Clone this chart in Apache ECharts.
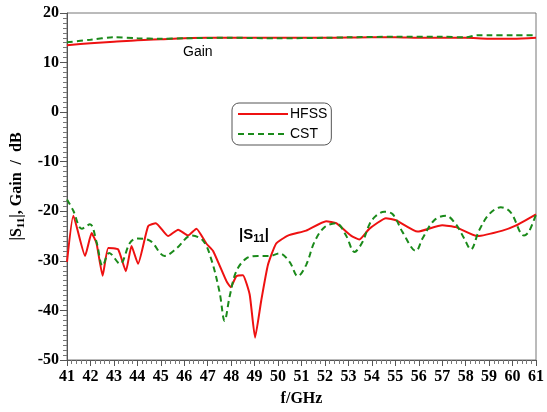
<!DOCTYPE html>
<html>
<head>
<meta charset="utf-8">
<script src="https://cdn.jsdelivr.net/npm/echarts@6/dist/echarts.min.js"></script>
<style>
  html, body { margin: 0; padding: 0; background: #fff; }
  #chart { width: 547px; height: 412px; }
</style>
</head>
<body>
<div id="chart"></div>
<script>
// frecuencias y valores
var gainHfssF = [41, 42, 43, 44, 45, 46, 47, 48, 50, 52, 54, 55, 56, 57, 58, 59, 60, 61];
var gainHfss = [13.5, 13.9, 14.2, 14.5, 14.7, 14.9, 15, 15, 15, 15, 15.1, 15.1, 15, 15, 15, 14.8, 14.8, 15];
var gainCstF = [41, 42, 43, 44, 45, 46, 48, 50, 52, 53, 55, 57, 58, 58.5, 59, 60, 61];
var gainCst = [14.1, 14.6, 15.1, 14.9, 14.8, 14.9, 15, 14.9, 15, 15.1, 15.2, 15.2, 15.1, 15.5, 15.5, 15.5, 15.5];

var s11HfssF = [41, 41.27, 41.77, 42.05, 42.26, 42.52, 42.76, 43.18, 43.51, 43.75, 44.03, 44.46, 44.79,
  45.31, 45.74, 46.16, 46.52, 46.94, 47.23, 47.8, 47.98, 48.22, 48.5, 48.79, 49.02, 49.28, 49.57, 49.92,
  50.42, 51.2, 52.05, 52.48, 53.11, 53.47, 53.9, 54.6, 55.03, 55.95, 57.0, 57.58, 58.5, 59.57, 60.13, 61];
var s11Hfss = [-30.2, -20.9, -29, -24.4, -26.5, -33, -27.4, -27.7, -32.1, -27, -30.6, -23, -22.4,
  -25, -23.7, -24.9, -23.5, -26.5, -28, -34.1, -35.3, -33.1, -32.9, -36.8, -45.5, -38.1, -30.8, -26.5,
  -24.9, -23.9, -22, -22.4, -24.9, -25.7, -23.5, -21.4, -21.8, -24.1, -22.8, -23.2, -25, -23.9, -22.9, -20.6];

var s11CstF = [41, 41.27, 41.63, 41.98, 42.26, 42.52, 42.8, 43.26, 43.68, 43.97, 44.53, 45.17, 45.67,
  46.3, 46.8, 47.16, 47.51, 47.72, 47.94, 48.22, 48.65, 49.14, 49.64, 50.06, 50.49, 50.84, 51.2, 51.55,
  51.98, 52.48, 52.9, 53.26, 53.6, 53.9, 54.18, 54.53, 54.89, 55.31, 55.88, 56.16, 56.66, 57.16, 57.58,
  57.94, 58.22, 58.57, 59.0, 59.5, 59.92, 60.49, 60.7, 61];
var s11Cst = [-17.6, -19.9, -23.5, -22.6, -26.2, -31, -28.4, -30.6, -26.4, -25.5, -25.9, -29, -27.5,
  -24.9, -25.9, -29.8, -36.4, -42.1, -37.1, -32.1, -29.5, -29, -29, -28.5, -30.2, -33.1, -30.8, -26.2,
  -23.2, -22.4, -24.9, -28.2, -26.2, -22.6, -20.9, -20.1, -20.6, -24.2, -28, -25.5, -21.8, -20.9, -22.6,
  -25.5, -27.7, -23.9, -20.6, -19.2, -20.2, -24.9, -24.1, -20.6];

var zip = function (xs, ys) {
  return xs.map(function (x, i) { return [x, ys[i]]; });
};

var serif = '"Liberation Serif", "Times New Roman", serif';
var sans = '"Liberation Sans", Arial, sans-serif';
var red = '#ee1111';
var green = '#1a8a1a';

var getOption = function () {
  return {
    animation: false,
    backgroundColor: '#fff',
    grid: {
      left: 67,
      right: 10,
      top: 13,
      bottom: 47,
      show: true,
      borderColor: '#777',
      borderWidth: 1,
    },
    legend: {
      left: 232,
      top: 103,
      orient: 'vertical',
      itemWidth: 50,
      itemHeight: 10,
      itemGap: 6,
      padding: [4, 4, 4, 5],
      borderColor: '#555',
      borderWidth: 1,
      borderRadius: 7,
      itemStyle: { opacity: 0 },
      textStyle: { fontFamily: sans, fontSize: 14, color: '#000', padding: [0, 0, 0, -3] },
      data: ['HFSS', 'CST'],
    },
    graphic: [
      {
        type: 'text',
        left: 183,
        top: 45,
        style: { text: 'Gain', font: '14px ' + sans, fill: '#000' },
      },
      {
        type: 'text',
        left: 239,
        top: 227,
        style: {
          text: '|S{sub|11}|',
          font: 'bold 15px ' + sans,
          fill: '#000',
          rich: {
            sub: { fontSize: 11, fontWeight: 'bold', fontFamily: sans, padding: [8, 0, 0, 0] },
          },
        },
      },
    ],
    xAxis: {
      type: 'value',
      min: 41,
      max: 61,
      interval: 1,
      name: 'f/GHz',
      nameLocation: 'middle',
      nameGap: 31,
      nameTextStyle: { fontFamily: serif, fontWeight: 'bold', fontSize: 16, color: '#000' },
      axisLine: { show: true, onZero: false, lineStyle: { color: '#555' } },
      axisTick: { show: true, length: 6, lineStyle: { color: '#555' } },
      minorTick: { show: true, splitNumber: 5, length: 4, lineStyle: { color: '#777' } },
      axisLabel: { fontFamily: serif, fontWeight: 'bold', fontSize: 16, color: '#000', margin: 9 },
      splitLine: { show: false },
    },
    yAxis: {
      type: 'value',
      min: -50,
      max: 20,
      interval: 10,
      name: '|S{sub|11}|, Gain  /  dB',
      nameLocation: 'middle',
      nameGap: 40,
      nameRotate: 90,
      nameTextStyle: {
        fontFamily: serif,
        fontWeight: 'bold',
        fontSize: 16,
        color: '#000',
        rich: {
          sub: { fontFamily: serif, fontWeight: 'bold', fontSize: 11, padding: [8, 0, 0, 0] },
        },
      },
      axisLine: { show: true, onZero: false, lineStyle: { color: '#555' } },
      axisTick: { show: true, length: 7, lineStyle: { color: '#555' } },
      minorTick: { show: true, splitNumber: 10, length: 4, lineStyle: { color: '#777' } },
      axisLabel: { fontFamily: serif, fontWeight: 'bold', fontSize: 16, color: '#000', margin: 8 },
      splitLine: { show: false },
    },
    series: [
      {
        name: 'HFSS',
        type: 'line',
        symbol: 'none',
        smooth: 0.3,
        data: zip(gainHfssF, gainHfss),
        lineStyle: { color: red, width: 2 },
        itemStyle: { color: red },
      },
      {
        name: 'CST',
        type: 'line',
        symbol: 'none',
        smooth: 0.3,
        data: zip(gainCstF, gainCst),
        lineStyle: { color: green, width: 2, type: [6, 4] },
        itemStyle: { color: green },
      },
      {
        name: 'HFSS',
        type: 'line',
        symbol: 'none',
        smooth: 0.15,
        data: zip(s11HfssF, s11Hfss),
        lineStyle: { color: red, width: 2 },
        itemStyle: { color: red },
      },
      {
        name: 'CST',
        type: 'line',
        symbol: 'none',
        smooth: 0.35,
        data: zip(s11CstF, s11Cst),
        lineStyle: { color: green, width: 2, type: [6, 4] },
        itemStyle: { color: green },
      },
    ],
  };
};

var chart = echarts.init(document.getElementById('chart'));
chart.setOption(getOption());
</script>
</body>
</html>
